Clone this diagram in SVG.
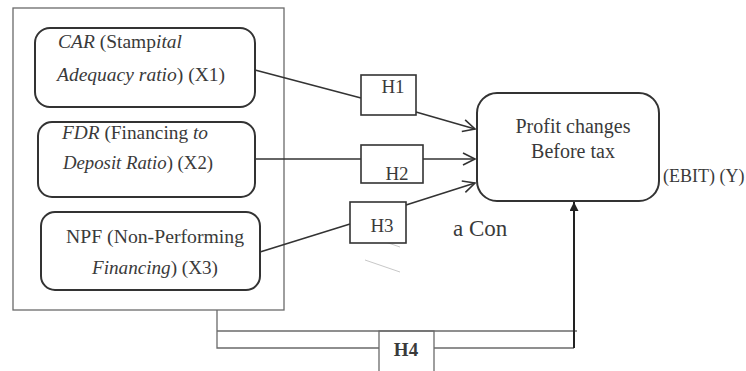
<svg xmlns="http://www.w3.org/2000/svg" width="746" height="371" viewBox="0 0 746 371">
  <style>
    .node { fill: #fff; stroke: #333; stroke-width: 2; }
    .hbox { fill: #fff; stroke: #333; stroke-width: 1.6; }
    .t { font-family: "Liberation Serif", "Times New Roman", serif; fill: #3a3a3a; }
    .bt { font-size: 19px; }
    .ht { font-size: 19px; }
    .conn { stroke: #333; stroke-width: 1.6; fill: none; }
    .frame { stroke: #6a6a6a; stroke-width: 1.3; fill: none; }
    .faint { stroke: #c8c8c8; stroke-width: 1; }
    .i { font-style: italic; }
  </style>
  <defs>
    <marker id="open" markerUnits="userSpaceOnUse" markerWidth="16" markerHeight="16" refX="13" refY="7" orient="auto">
      <path d="M1,1 L13,7 L1,13" fill="none" stroke="#333" stroke-width="1.6"/>
    </marker>
    <marker id="solid" markerUnits="userSpaceOnUse" markerWidth="10" markerHeight="10" refX="9" refY="4.5" orient="auto">
      <path d="M0,0 L9,4.5 L0,9 Z" fill="#222"/>
    </marker>
  </defs>
  <rect width="746" height="371" fill="#fff"/>

  <g id="frame">
    <rect class="frame" x="13" y="8" width="271" height="302"/>
  </g>

  <g id="connectors">
    <polyline class="conn" points="255,70 361,98"/>
    <line class="conn" x1="416" y1="112" x2="475" y2="129" marker-end="url(#open)"/>
    <line class="conn" x1="255" y1="159" x2="361" y2="159"/>
    <line class="conn" x1="423" y1="159" x2="475" y2="159" marker-end="url(#open)"/>
    <line class="conn" x1="260" y1="252" x2="350" y2="224"/>
    <line class="conn" x1="406" y1="205" x2="475" y2="183" marker-end="url(#open)"/>
    <polyline class="frame" points="217,310 217,348 379,348"/>
    <line class="frame" x1="217" y1="331" x2="577" y2="331"/>
    <line class="frame" x1="434" y1="348" x2="574" y2="348"/>
    <line x1="574" y1="348" x2="574" y2="202" stroke="#222" stroke-width="2" marker-end="url(#solid)"/>
    <line class="faint" x1="365" y1="235" x2="400" y2="247"/>
    <line class="faint" x1="365" y1="260" x2="400" y2="272"/>
  </g>

  <g id="x1">
    <rect class="node" x="35" y="28" width="220" height="79" rx="15"/>
    <text class="t bt" x="58" y="48" textLength="124" lengthAdjust="spacingAndGlyphs"><tspan class="i">CAR</tspan> (Stamp<tspan class="i">ital</tspan></text>
    <text class="t bt" x="57" y="81" textLength="168" lengthAdjust="spacingAndGlyphs"><tspan class="i">Adequacy ratio</tspan>) (X1)</text>
  </g>

  <g id="x2">
    <rect class="node" x="38" y="122" width="217" height="75" rx="14"/>
    <text class="t bt" x="62" y="139" textLength="146" lengthAdjust="spacingAndGlyphs"><tspan class="i">FDR</tspan> (Financing <tspan class="i">to</tspan></text>
    <text class="t bt" x="63" y="169" textLength="150" lengthAdjust="spacingAndGlyphs"><tspan class="i">Deposit Ratio</tspan>) (X2)</text>
  </g>

  <g id="x3">
    <rect class="node" x="41" y="212" width="219" height="78" rx="14"/>
    <text class="t bt" x="66" y="243" textLength="178" lengthAdjust="spacingAndGlyphs">NPF (Non-Performing</text>
    <text class="t bt" x="92" y="274" textLength="126" lengthAdjust="spacingAndGlyphs"><tspan class="i">Financing</tspan>) (X3)</text>
  </g>

  <g id="h1">
    <rect class="hbox" x="361" y="75" width="55" height="40"/>
    <text class="t ht" x="393" y="93" text-anchor="middle">H1</text>
  </g>
  <g id="h2">
    <rect class="hbox" x="361" y="145" width="62" height="38"/>
    <text class="t ht" x="397" y="180" text-anchor="middle">H2</text>
  </g>
  <g id="h3">
    <rect class="hbox" x="350" y="202" width="56" height="41"/>
    <text class="t ht" x="382" y="232" text-anchor="middle">H3</text>
  </g>
  <g id="h4">
    <rect class="frame" x="379" y="331" width="55" height="42" fill="#fff"/>
    <text class="t ht" x="406" y="356" text-anchor="middle" font-weight="bold">H4</text>
  </g>

  <g id="y">
    <rect class="node" x="477" y="93" width="182" height="108" rx="20"/>
    <text class="t" font-size="20" x="573" y="133" text-anchor="middle">Profit changes</text>
    <text class="t" font-size="20" x="573" y="158" text-anchor="middle">Before tax</text>
    <text class="t" font-size="18" x="663" y="182">(EBIT) (Y)</text>
  </g>

  <g id="acon">
    <text class="t" font-size="23" x="453" y="236">a Con</text>
  </g>
</svg>
